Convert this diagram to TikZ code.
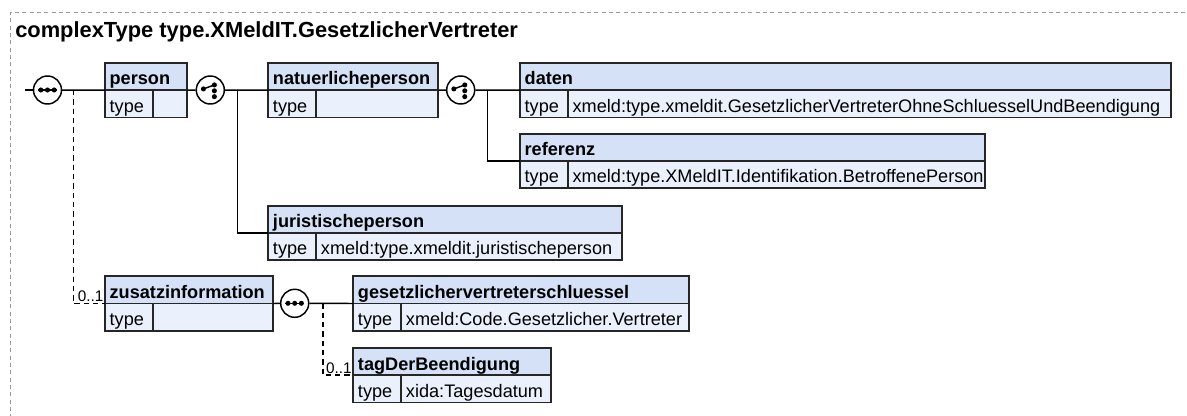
\documentclass[tikz,border=0pt]{standalone}
\usepackage{fontspec}
\setmainfont{Liberation Sans}
\usepackage{tikz}
\usetikzlibrary{positioning,calc}
\definecolor{hdrblue}{HTML}{D4E1F7}
\definecolor{rowblue}{HTML}{EAF0FC}
\definecolor{framegray}{HTML}{9A9A9A}
\newcommand{\iconSeq}{%
  \begin{tikzpicture}[x=1pt,y=1pt,baseline=0pt]
    \path(-7,-7)rectangle(7,7);
    \draw[line width=1pt](-7,0)--(7,0);
    \foreach \dx in {-5,0,5}{\fill(\dx,0)circle(1.9);}
  \end{tikzpicture}}
\newcommand{\iconChoice}{%
  \begin{tikzpicture}[x=1pt,y=1pt,baseline=0pt]
    \path(-7,-7)rectangle(7,7);
    \draw[line width=1.1pt](-5.2,0.8)--(3,3.8);
    \fill(-5.2,0.8)circle(1.9);
    \foreach \dy in {3.8,-0.6,-5}{\fill(3,\dy)circle(1.9);}
  \end{tikzpicture}}
% element box: name, top-left, width (px), title, type
\newcommand{\xsdElem}[5]{%
  \pgfmathsetmacro{\elw}{#3*0.75-7}%
  \pgfmathsetmacro{\valw}{(#3-48)*0.75-7}%
  \node[elhead,text width=\elw pt,anchor=north west](#1)at(#2){#4};
  \node[eltype,anchor=north west](#1-t)at(#1.south west){type};
  \node[elval,text width=\valw pt,anchor=north west](#1-v)at(#1-t.north east){#5};}

\begin{document}
\begin{tikzpicture}[
  x=0.75pt,y=-0.75pt,
  font=\fontsize{13.6}{15}\selectfont,
  elbase/.style={draw=black!85,line width=1.3pt,outer sep=0pt,inner xsep=3.5pt,
    inner ysep=0pt,text height=16.5pt,text depth=3.9pt,align=left},
  elhead/.style={elbase,fill=hdrblue,font=\fontsize{13.6}{15}\selectfont\bfseries},
  eltype/.style={elbase,fill=rowblue,text width=29pt},
  elval/.style={elbase,fill=rowblue},
  compo/.style={circle,draw=black,line width=1.1pt,fill=white,minimum size=21pt,inner sep=0pt},
  link/.style={line width=1.1pt},
  optlink/.style={link,dash pattern=on 4pt off 3pt},
  mult/.style={font=\fontsize{11.5}{12}\selectfont,inner sep=1pt,anchor=south east},
  frame/.style={draw=framegray,line width=0.6pt,dash pattern=on 3pt off 2.5pt},
  titletxt/.style={font=\fontsize{16.4}{18}\selectfont\bfseries,anchor=base west,inner sep=0pt}
]
\useasboundingbox(0,0)rectangle(1187,416);

% ── Rahmen und Titel ─────────────────────────────────────────────────────────
\draw[frame](1185,12.7)-|(10,416);
\node[titletxt](title)at(15,38){complexType type.XMeldIT.GesetzlicherVertreter};

% ── Kompositoren ─────────────────────────────────────────────────────────────
\node[compo](seqA)at(47.5,90){\iconSeq};
\node[compo](choA)at(210.3,90){\iconChoice};
\node[compo](choB)at(460.7,90){\iconChoice};
\node[compo](seqB)at(294.7,303.3){\iconSeq};

% ── Elemente ─────────────────────────────────────────────────────────────────
\xsdElem{person}{105,63}{82.3}{person}{}
\xsdElem{natPerson}{268.3,63}{170}{natuerlicheperson}{}
\xsdElem{daten}{520,63}{650.7}{daten}{xmeld:type.xmeldit.GesetzlicherVertreterOhneSchluesselUndBeendigung}
\xsdElem{referenz}{520,133.7}{465}{referenz}{xmeld:type.XMeldIT.Identifikation.BetroffenePerson}
\xsdElem{jurPerson}{268.3,205.7}{353.4}{juristischeperson}{xmeld:type.xmeldit.juristischeperson}
\xsdElem{zusatz}{105,276.3}{168.3}{zusatzinformation}{}
\xsdElem{gvSchluessel}{353.3,276.3}{336}{gesetzlichervertreterschluessel}{xmeld:Code.Gesetzlicher.Vertreter}
\xsdElem{tagBeend}{353.3,348}{197.4}{tagDerBeendigung}{xida:Tagesdatum}

% ── Verbindungen ─────────────────────────────────────────────────────────────
\coordinate(entry)at(25,90);
\draw[link](entry)--(seqA);
\draw[link](seqA)--(person.south west);
\draw[link](person.south east)--(choA);
\draw[link](choA)--(natPerson.south west);
\draw[link]($(choA.east)+(12.4,0)$)|-(jurPerson.south west);
\draw[link](natPerson.south east)--(choB);
\draw[link](choB)--(daten.south west);
\draw[link]($(choB.east)+(12,0)$)|-(referenz.south west);
\draw[optlink]($(seqA.east)+(11,0)$)|-(zusatz.south west);
\draw[link](zusatz.south east)--(seqB);
\draw[link](seqB)--(gvSchluessel.south west);
\draw[optlink]($(seqB.east)+(13.6,0)$)|-(tagBeend.south west);

% ── Kardinalitäten ───────────────────────────────────────────────────────────
\node[mult](multZusatz)at(zusatz.south west){0..1};
\node[mult](multTag)at(tagBeend.south west){0..1};
\end{tikzpicture}
\end{document}
